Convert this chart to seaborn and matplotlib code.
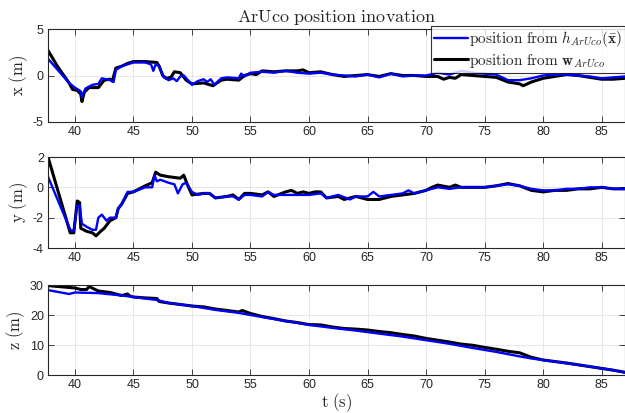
import numpy as np
import pandas as pd
import matplotlib
matplotlib.use("Agg")
import matplotlib.pyplot as plt
import seaborn as sns

# x innovation
t_x_h = [37.7, 39.5, 40.0, 40.5, 40.6, 40.9, 41.5, 42.0, 42.3, 43.0, 43.3, 43.5, 44.0, 44.5, 45.0, 46.0,
         46.5, 46.7, 46.9, 47.2, 47.6, 48.0, 48.4, 48.7, 49.0, 49.3, 49.8, 50.0, 50.5, 51.0, 51.3, 51.6,
         51.9, 52.5, 53.0, 54.0, 54.2, 54.5, 55.0, 56.0, 57.0, 58.0, 59.0, 60.0, 61.0, 62.0, 63.0, 64.0,
         65.0, 66.0, 67.0, 68.0, 69.0, 70.0, 71.0, 72.0, 73.0, 74.0, 75.0, 76.0, 77.0, 78.0, 79.0, 80.0,
         81.0, 82.0, 83.0, 84.0, 85.0, 86.0, 87.0]
x_h = [1.8, -0.8, -1.3, -1.7, -2.3, -1.4, -1.0, -0.9, -0.3, -0.5, -0.7, 0.6, 1.0, 1.2, 1.4, 1.4,
       1.2, 0.5, 1.2, 1.0, -0.2, -0.5, -0.3, -0.6, -0.1, 0.0, -0.7, -1.0, -0.6, -0.4, -0.7, -0.4,
       -1.0, -0.3, -0.2, -0.3, 0.2, -0.1, 0.3, 0.4, 0.3, 0.5, 0.3, 0.2, 0.3, 0.1, 0.0, -0.1,
       0.1, -0.2, 0.2, -0.1, 0.0, 0.0, 0.3, 0.1, 0.5, 0.3, 0.2, 0.1, -0.5, -0.5, -0.3, 0.0,
       0.1, 0.1, 0.0, -0.1, -0.3, -0.2, -0.1]
t_x_w = [37.7, 38.5, 39.5, 39.8, 40.2, 40.5, 40.6, 40.8, 41.2, 42.0, 42.5, 43.0, 43.2, 43.5, 44.0, 44.5,
         45.0, 46.0, 47.0, 47.2, 47.5, 47.8, 48.2, 48.5, 49.0, 49.5, 50.0, 51.0, 51.8, 52.5, 53.0, 54.0,
         54.5, 55.0, 55.5, 56.0, 57.0, 58.0, 59.0, 59.5, 60.0, 61.0, 62.0, 63.0, 64.0, 65.0, 66.0, 67.0,
         68.0, 69.0, 70.0, 71.0, 71.5, 72.0, 72.5, 73.0, 74.0, 75.0, 76.0, 77.0, 78.0, 78.3, 79.0, 80.0,
         81.0, 82.0, 83.0, 84.0, 85.0, 86.0, 87.0]
x_w = [2.7, 1.0, -0.8, -1.5, -1.6, -2.0, -2.8, -1.8, -1.3, -1.3, -0.5, -0.4, -0.6, 0.8, 1.0, 1.3,
       1.5, 1.5, 1.4, 1.0, 0.0, -0.3, -0.2, 0.4, 0.3, -0.5, -0.9, -0.8, -1.1, -0.5, -0.4, -0.5,
       0.0, 0.2, 0.1, 0.5, 0.4, 0.5, 0.5, 0.6, 0.3, 0.4, 0.1, -0.1, 0.0, 0.1, -0.1, 0.2,
       0.0, 0.0, -0.1, -0.1, -0.4, -0.2, -0.3, 0.1, 0.0, -0.1, -0.2, -0.7, -0.9, -1.1, -0.7, -0.3,
       -0.1, 0.1, 0.0, -0.2, -0.4, -0.4, -0.3]

# y innovation
t_y_h = [37.7, 39.6, 39.9, 40.2, 40.4, 40.6, 41.0, 41.5, 41.8, 42.0, 42.3, 42.7, 43.0, 43.5, 43.7, 44.0,
         44.5, 45.0, 46.0, 46.6, 46.8, 47.0, 47.3, 48.0, 48.5, 48.8, 49.2, 49.5, 50.0, 50.5, 51.0, 51.5,
         52.0, 53.0, 53.5, 54.0, 54.5, 55.0, 56.0, 56.5, 57.0, 58.0, 59.0, 60.0, 61.0, 61.5, 62.5, 63.5,
         64.0, 65.0, 65.5, 66.0, 67.0, 68.0, 68.5, 69.0, 70.0, 71.0, 72.0, 73.0, 75.0, 77.0, 78.0, 79.0,
         80.0, 81.0, 82.0, 83.0, 84.0, 85.0, 86.0, 87.0]
y_h = [0.7, -2.8, -2.9, -1.2, -1.2, -2.4, -2.6, -2.8, -2.8, -2.0, -1.8, -2.2, -2.0, -2.0, -1.4, -1.1,
       -0.3, -0.3, 0.0, 0.0, 0.8, 0.4, 0.5, 0.3, 0.2, -0.4, 0.2, 0.3, -0.3, -0.5, -0.4, -0.4,
       -0.7, -0.6, -0.6, -0.8, -0.5, -0.5, -0.6, -0.3, -0.5, -0.5, -0.5, -0.5, -0.4, -0.7, -0.5, -0.8,
       -0.6, -0.6, -0.3, -0.6, -0.5, -0.4, -0.2, -0.4, -0.2, 0.0, -0.1, 0.0, 0.0, 0.2, 0.1, -0.1,
       -0.2, -0.2, -0.1, -0.1, 0.0, 0.0, -0.1, -0.1]
t_y_w = [37.7, 39.6, 39.9, 40.2, 40.4, 40.5, 41.0, 41.5, 41.8, 42.2, 42.5, 43.0, 43.5, 43.7, 44.0, 44.5,
         45.0, 46.0, 46.6, 46.9, 47.3, 48.0, 49.0, 49.3, 49.6, 50.0, 51.0, 51.5, 52.0, 53.0, 53.5, 54.0,
         54.5, 55.0, 56.0, 56.5, 57.0, 58.0, 58.5, 59.0, 59.5, 60.0, 60.5, 61.0, 61.5, 62.5, 63.0, 64.0,
         65.0, 66.0, 67.0, 68.0, 69.0, 70.0, 70.5, 71.0, 72.0, 72.5, 73.0, 75.0, 76.0, 77.0, 78.0, 79.0,
         80.0, 81.0, 82.0, 83.0, 84.0, 85.0, 86.0, 87.0]
y_w = [2.0, -3.0, -3.0, -0.9, -1.0, -2.7, -2.9, -3.0, -3.2, -2.9, -2.7, -2.2, -2.0, -1.4, -1.1, -0.4,
       -0.3, 0.1, 0.3, 1.0, 0.8, 0.7, 0.6, 0.8, 0.2, -0.5, -0.4, -0.4, -0.7, -0.6, -0.5, -0.8,
       -0.4, -0.4, -0.5, -0.3, -0.6, -0.3, -0.2, -0.4, -0.3, -0.4, -0.3, -0.3, -0.7, -0.6, -0.8, -0.6,
       -0.8, -0.8, -0.6, -0.5, -0.4, -0.2, 0.0, 0.15, 0.0, 0.15, 0.0, 0.0, 0.1, 0.25, 0.1, -0.2,
       -0.3, -0.2, -0.2, -0.1, -0.1, 0.0, -0.1, -0.1]

# z innovation
t_z_h = [37.7, 39.5, 40.0, 42.0, 44.0, 45.0, 46.0, 47.0, 48.0, 50.0, 52.0, 54.0, 56.0, 58.0, 60.0, 62.0,
         64.0, 66.0, 68.0, 70.0, 72.0, 74.0, 76.0, 78.0, 79.0, 80.0, 82.0, 84.0, 86.0, 87.0]
z_h = [28.3, 27.0, 27.5, 27.3, 26.5, 26.0, 25.5, 25.0, 24.0, 23.0, 21.7, 20.7, 19.3, 18.0, 16.7, 15.7,
       14.8, 13.8, 12.8, 11.6, 10.4, 9.0, 7.7, 6.2, 5.5, 5.0, 3.9, 2.8, 1.6, 0.8]
t_z_w = [37.7, 40.0, 40.5, 41.0, 41.2, 42.0, 43.0, 43.5, 44.0, 44.5, 44.7, 45.0, 46.0, 47.0, 47.2, 48.0,
         49.0, 50.0, 51.0, 52.0, 53.0, 54.0, 54.3, 55.0, 56.0, 57.0, 58.0, 59.0, 60.0, 61.0, 62.0, 63.0,
         64.0, 65.0, 66.0, 67.0, 68.0, 69.0, 70.0, 71.0, 72.0, 73.0, 74.0, 75.0, 76.0, 77.0, 78.0, 79.0,
         80.0, 81.0, 82.0, 83.0, 84.0, 85.0, 86.0, 87.0]
z_w = [29.8, 29.0, 28.5, 28.5, 29.5, 28.0, 27.5, 27.0, 26.5, 27.0, 26.3, 26.0, 25.7, 25.5, 24.5, 24.0,
       23.5, 23.0, 22.7, 22.0, 21.5, 21.0, 21.5, 20.5, 19.5, 18.8, 18.0, 17.5, 16.8, 16.7, 16.0, 15.5,
       15.3, 15.0, 14.5, 14.1, 13.5, 13.0, 12.2, 11.6, 11.0, 10.3, 9.9, 9.2, 8.6, 7.9, 7.4, 5.9,
       5.0, 4.5, 4.0, 3.4, 2.8, 2.2, 1.6, 0.9]

panels = [
    ("x", t_x_h, x_h, t_x_w, x_w, (-5, 5), [-5, 0, 5]),
    ("y", t_y_h, y_h, t_y_w, y_w, (-4, 2), [-4, -2, 0, 2]),
    ("z", t_z_h, z_h, t_z_w, z_w, (0, 30), [0, 10, 20, 30]),
]

sns.set_style("ticks")
plt.rcParams["font.family"] = ["Liberation Sans", "DejaVu Sans"]
plt.rcParams["mathtext.fontset"] = "cm"
plt.rcParams["axes.unicode_minus"] = False

fig = plt.figure(figsize=(6.25, 4.13), dpi=100)
rects = [
    [48 / 625, 1 - 122 / 413, 577 / 625, 93 / 413],
    [48 / 625, 1 - 248 / 413, 577 / 625, 91 / 413],
    [48 / 625, 1 - 375 / 413, 577 / 625, 90 / 413],
]

blue = "#0000ff"
for rect, (name, th, vh, tw, vw, ylim, yticks) in zip(rects, panels):
    ax = fig.add_axes(rect)
    df_h = pd.DataFrame({"t": th, "v": vh})
    df_w = pd.DataFrame({"t": tw, "v": vw})
    sns.lineplot(data=df_w, x="t", y="v", ax=ax, color="black", lw=2.2, label=r"$\mathrm{position\ from\ }\mathbf{w}_{ArUco}$")
    sns.lineplot(data=df_h, x="t", y="v", ax=ax, color=blue, lw=1.7, label=r"$\mathrm{position\ from\ }h_{ArUco}(\bar{\mathbf{x}})$")
    ax.set_xlim(37.7, 87)
    ax.set_ylim(*ylim)
    ax.set_xticks(range(40, 90, 5))
    ax.set_yticks(yticks)
    ax.grid(True, color="#e3e3e3", lw=0.6)
    ax.tick_params(direction="in", top=True, right=True, labelsize=9, length=4, width=0.6, pad=3)
    for s in ax.spines.values():
        s.set_linewidth(0.8)
    ax.set_xlabel("")
    ax.set_ylabel(r"$\mathrm{%s\ (m)}$" % name, fontsize=12, labelpad=2)
    if name == "x":
        ax.set_title(r"$\mathrm{ArUco\ position\ inovation}$", fontsize=13, pad=5)
        handles, labels = ax.get_legend_handles_labels()
        leg = ax.legend(handles[::-1], labels[::-1], loc="upper right", bbox_to_anchor=(1.0, 1.03),
                        fontsize=11, frameon=True, fancybox=False, edgecolor="black",
                        handlelength=2.2, handletextpad=0.1, borderpad=0.2, labelspacing=0.15,
                        borderaxespad=0)
        leg.get_frame().set_linewidth(0.8)
    else:
        ax.get_legend().remove()
    if name == "z":
        ax.set_xlabel(r"$\mathrm{t\ (s)}$", fontsize=12, labelpad=0)

fig.savefig("out.png", dpi=100)
